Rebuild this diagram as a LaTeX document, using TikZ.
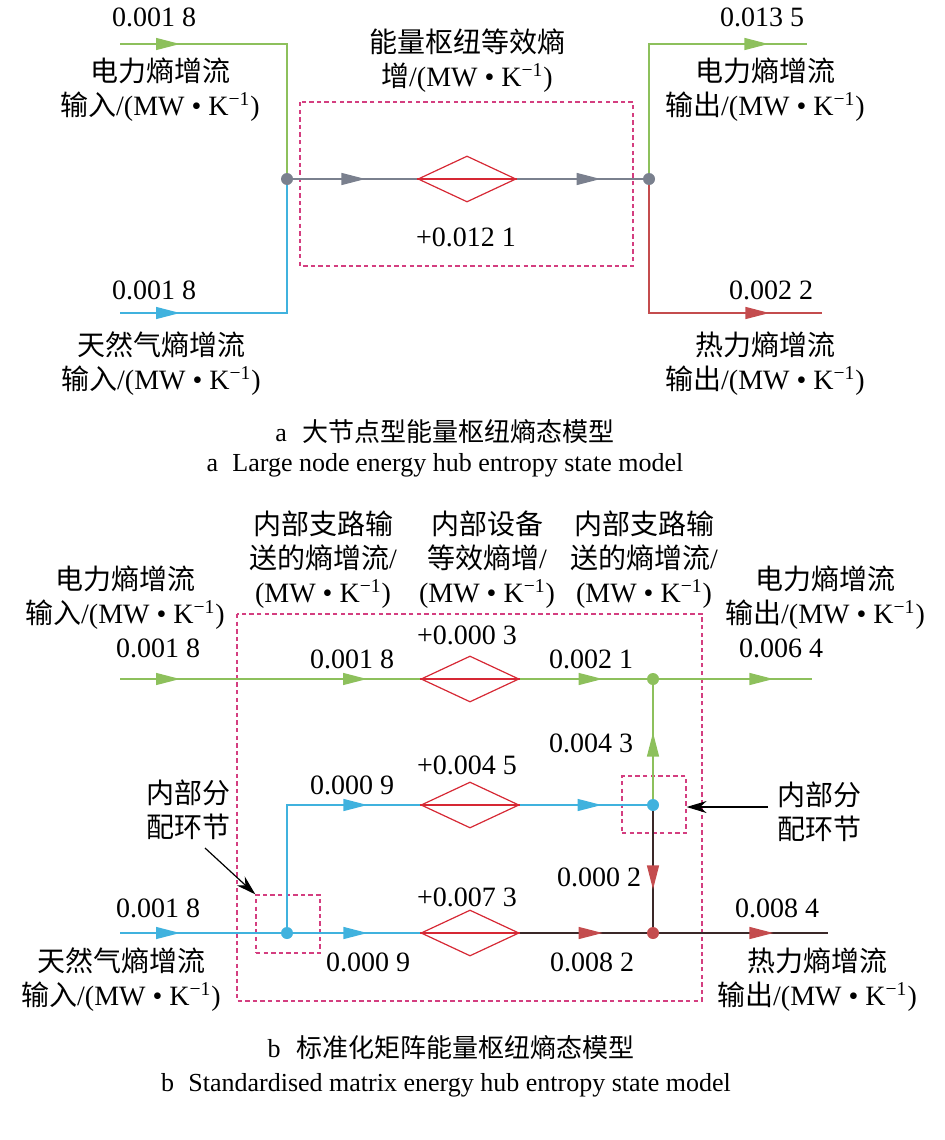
\documentclass[tikz,border=0pt]{standalone}
\usepackage{fontspec}
\setmainfont{Liberation Serif}
\newfontfamily\cjk{Noto Sans CJK SC}
\usetikzlibrary{arrows.meta,shapes.geometric,decorations.markings}
\definecolor{elec}{RGB}{141,192,92}
\definecolor{gas}{RGB}{64,178,222}
\definecolor{heat}{RGB}{196,76,78}
\definecolor{darkflow}{RGB}{58,40,40}
\definecolor{hubgray}{RGB}{122,128,142}
\definecolor{devred}{RGB}{214,40,52}
\definecolor{boxpink}{RGB}{212,62,128}
\newcommand{\unitMK}{(MW • K\textsuperscript{−1})}
\tikzset{
  flow/.style={line width=0.65pt},
  tipat/.style 2 args={postaction={decorate,decoration={markings,
      mark=at position #1 with {\arrow{Triangle[length=12pt,width=6pt,#2]}}}}},
  eflow/.style={flow,elec},
  gflow/.style={flow,gas},
  kflow/.style={flow,hubgray},
  hflow/.style={flow,heat},
  dflow/.style={flow,darkflow},
  dot/.style={circle,fill=#1,inner sep=0pt,minimum size=6pt},
  device/.style={diamond,draw=devred,line width=0.6pt,inner sep=0pt,
      minimum width=49pt,minimum height=23pt},
  hubbox/.style={draw=boxpink,line width=0.6pt,dash pattern=on 2.2pt off 1.6pt,inner sep=0pt},
  pointer/.style={line width=0.6pt,-{Stealth[length=10pt,width=6pt]}},
  lab/.style={align=center,inner sep=0pt,font=\fontsize{14pt}{17pt}\selectfont},
  captext/.style={align=center,inner sep=0pt,font=\fontsize{13pt}{16pt}\selectfont}
}
\begin{document}
\begin{tikzpicture}[x=0.5pt,y=-0.5pt]
\useasboundingbox (0,0) rectangle (945,1140);
\coordinate (ein) at (120,44);
\coordinate (gin) at (120,313);
\coordinate (eout) at (807,44);
\coordinate (hout) at (822,313);
\node[dot=hubgray] (hubin) at (287,179) {};
\node[dot=hubgray] (hubout) at (649,179) {};
\node[device] (hub) at (467,179) {};
\draw[hubbox] (300,102) rectangle (633,266);
\draw[eflow,tipat={30pt}{}] (ein) -| (hubin);
\draw[gflow,tipat={30pt}{}] (gin) -| (hubin);
\draw[kflow,tipat={36pt}{}] (hubin) -- (hub);
\draw[kflow,tipat={42pt}{}] (hub) -- (hubout);
\draw[eflow,tipat={124pt}{}] (hubout) |- (eout);
\draw[hflow,tipat={124pt}{}] (hubout) |- (hout);
\draw[devred,line width=0.6pt] (hub.west) -- (hub.east);
\node[lab] (ain) at (154,17) {0.001 8};
\node[lab] (ainname) at (160,90) {{\cjk 电力熵增流}\\{\cjk 输入}/\unitMK};
\node[lab] (gasin) at (154,290) {0.001 8};
\node[lab] (gasinname) at (161,364) {{\cjk 天然气熵增流}\\{\cjk 输入}/\unitMK};
\node[lab] (hubname) at (467,61) {{\cjk 能量枢纽等效熵}\\{\cjk 增}/\unitMK};
\node[lab] (hubval) at (466,237) {+0.012 1};
\node[lab] (aout) at (762,17) {0.013 5};
\node[lab] (aoutname) at (765,90) {{\cjk 电力熵增流}\\{\cjk 输出}/\unitMK};
\node[lab] (hout1) at (771,290) {0.002 2};
\node[lab] (houtname) at (765,364) {{\cjk 热力熵增流}\\{\cjk 输出}/\unitMK};
\node[captext] (capa) at (445,432) {a\hspace{0.6em}{\cjk 大节点型能量枢纽熵态模型}};
\node[captext] (capaen) at (445,465) {a\hspace{0.55em}Large node energy hub entropy state model};
\coordinate (ein2) at (120,679);
\coordinate (gin2) at (120,933);
\coordinate (eout2) at (812,679);
\coordinate (hout2) at (828,933);
\node[device] (dev1) at (470,679) {};
\node[device] (dev2) at (470,805) {};
\node[device] (dev3) at (470,933) {};
\node[dot=elec] (gjoin) at (653,679) {};
\node[dot=gas] (mix) at (653,805) {};
\node[dot=gas] (split) at (287,933) {};
\node[dot=heat] (hjoin) at (653,933) {};
\draw[hubbox] (237,614) rectangle (702,1001);
\node[hubbox,minimum width=32pt,minimum height=29pt] (lbox) at (288,924) {};
\node[hubbox,minimum width=32pt,minimum height=28.5pt] (rbox) at (654,804.5) {};
\draw[eflow,tipat={30pt}{},tipat={123.5pt}{}] (ein2) -- (dev1);
\draw[eflow,tipat={41.5pt}{}] (dev1) -- (gjoin);
\draw[eflow,tipat={57pt}{}] (gjoin) -- (eout2);
\draw[gflow,tipat={30pt}{}] (gin2) -- (split);
\draw[gflow,tipat={37pt}{}] (split) -- (dev3);
\draw[gflow,tipat={101pt}{}] (split) |- (dev2);
\draw[gflow,tipat={41pt}{}] (dev2) -- (mix);
\draw[eflow,tipat={33pt}{}] (mix) -- (gjoin);
\draw[dflow,tipat={39pt}{color=heat}] (mix) -- (hjoin);
\draw[dflow,tipat={41.5pt}{color=heat}] (dev3) -- (hjoin);
\draw[dflow,tipat={57pt}{color=heat}] (hjoin) -- (hout2);
\draw[devred,line width=0.6pt] (dev1.west) -- (dev1.east)
      (dev2.west) -- (dev2.east)
      (dev3.west) -- (dev3.east);
\coordinate (lptr) at (205,848);
\coordinate (rptr) at (768,807);
\draw[pointer] (lptr) -- (lbox.north west);
\draw[pointer] (rptr) -- (rptr -| rbox.east);
\node[lab] (bin) at (125,598) {{\cjk 电力熵增流}\\{\cjk 输入}/\unitMK};
\node[lab] (binval) at (158,648) {0.001 8};
\node[lab] (branchl) at (323,560) {{\cjk 内部支路输}\\{\cjk 送的熵增流}/\\\unitMK};
\node[lab] (devhead) at (487,560) {{\cjk 内部设备}\\{\cjk 等效熵增}/\\\unitMK};
\node[lab] (branchr) at (644,560) {{\cjk 内部支路输}\\{\cjk 送的熵增流}/\\\unitMK};
\node[lab] (bout) at (825,598) {{\cjk 电力熵增流}\\{\cjk 输出}/\unitMK};
\node[lab] (boutval) at (781,648) {0.006 4};
\node[lab] (dev1val) at (467,635) {+0.000 3};
\node[lab] (e1val) at (352,659) {0.001 8};
\node[lab] (e2val) at (591,659) {0.002 1};
\node[lab] (upval) at (591,743) {0.004 3};
\node[lab] (dev2val) at (467,765) {+0.004 5};
\node[lab] (g1val) at (352,785) {0.000 9};
\node[lab] (lsplit) at (188,810) {{\cjk 内部分}\\{\cjk 配环节}};
\node[lab] (rsplit) at (819,812) {{\cjk 内部分}\\{\cjk 配环节}};
\node[lab] (downval) at (599,877) {0.000 2};
\node[lab] (dev3val) at (467,897) {+0.007 3};
\node[lab] (gin2val) at (158,908) {0.001 8};
\node[lab] (hout2val) at (777,908) {0.008 4};
\node[lab] (g2val) at (368,962) {0.000 9};
\node[lab] (h1val) at (592,962) {0.008 2};
\node[lab] (gin2name) at (121,980) {{\cjk 天然气熵增流}\\{\cjk 输入}/\unitMK};
\node[lab] (hout2name) at (817,980) {{\cjk 热力熵增流}\\{\cjk 输出}/\unitMK};
\node[captext] (capb) at (451,1048) {b\hspace{0.6em}{\cjk 标准化矩阵能量枢纽熵态模型}};
\node[captext] (capben) at (446,1085) {b\hspace{0.55em}Standardised matrix energy hub entropy state model};
\end{tikzpicture}
\end{document}
